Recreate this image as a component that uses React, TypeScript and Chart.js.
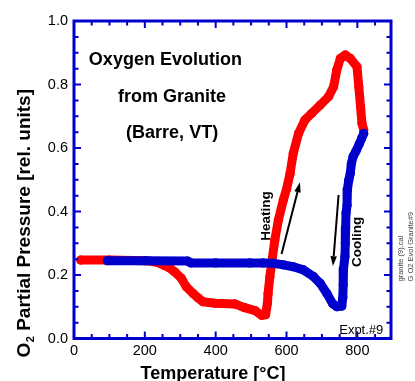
import React, { useEffect, useRef } from "react";
import { Chart, registerables } from "chart.js";

Chart.register(...registerables);

// Heating run (red): temperature [°C] and O2 partial pressure [rel. units]
const heatingT = [19, 100, 200, 218, 240, 255, 270, 284, 303, 317, 336, 350, 364, 397, 454, 482, 511, 530, 541, 546, 548, 553, 558, 567, 577, 591, 600, 610, 619, 634, 652, 671, 695, 719, 733, 742, 752, 766, 780, 799, 804, 809, 813, 818];
const heatingP = [0.247, 0.247, 0.245, 0.243, 0.238, 0.23, 0.222, 0.21, 0.19, 0.163, 0.142, 0.128, 0.116, 0.111, 0.109, 0.097, 0.088, 0.073, 0.075, 0.11, 0.142, 0.195, 0.237, 0.31, 0.373, 0.436, 0.47, 0.52, 0.583, 0.646, 0.688, 0.709, 0.735, 0.762, 0.793, 0.846, 0.882, 0.893, 0.882, 0.856, 0.793, 0.73, 0.678, 0.657];

// Cooling run (blue)
const coolingT = [818, 812, 805, 796, 788, 783, 780, 776, 772, 771, 768, 767, 766, 765, 761, 760, 759, 756, 742, 730, 714, 695, 676, 648, 619, 591, 563, 534, 496, 400, 330, 321, 200, 94];
const coolingP = [0.646, 0.63, 0.612, 0.59, 0.573, 0.55, 0.52, 0.5, 0.47, 0.42, 0.395, 0.35, 0.3, 0.258, 0.22, 0.17, 0.13, 0.102, 0.1, 0.11, 0.142, 0.174, 0.195, 0.216, 0.226, 0.232, 0.237, 0.238, 0.238, 0.238, 0.238, 0.244, 0.245, 0.245];

const xTickValues = [0, 200, 400, 600, 800];
const yTickValues = [0, 0.2, 0.4, 0.6, 0.8, 1.0];
const xMinorStep = 50;
const yMinorStep = 0.05;
const X_MIN = 0;
const X_MAX = 895;
const Y_MIN = 0;
const Y_MAX = 1.0;

const titleLines = ["Oxygen Evolution", "from Granite", "(Barre, VT)"];
const titleAnchorT = [258, 277, 277];
const titleAnchorP = [0.861, 0.746, 0.631];
const heatingLabel = "Heating";
const coolingLabel = "Cooling";
const exptLabel = "Expt.#9";
const sideNotes = ["granite (9).cal", "G O2 Evol Granite#9"];
const xTitle = "Temperature [°C]";
const yTitleMain = "O";
const yTitleSub = "2";
const yTitleRest = " Partial Pressure [rel. units]";

const BLUE = "#0000cc";
const RED = "#ff0000";
const FONT = "'Liberation Sans', Arial, Helvetica, sans-serif";

function drawArrow(ctx: CanvasRenderingContext2D, x1: number, y1: number, x2: number, y2: number) {
  const ang = Math.atan2(y2 - y1, x2 - x1);
  const head = 10;
  const hw = 3.2;
  const bx = x2 - head * Math.cos(ang);
  const by = y2 - head * Math.sin(ang);
  ctx.beginPath();
  ctx.moveTo(x1, y1);
  ctx.lineTo(bx, by);
  ctx.stroke();
  ctx.beginPath();
  ctx.moveTo(x2, y2);
  ctx.lineTo(bx + hw * Math.sin(ang), by - hw * Math.cos(ang));
  ctx.lineTo(bx - hw * Math.sin(ang), by + hw * Math.cos(ang));
  ctx.closePath();
  ctx.fill();
}

const decorPlugin = {
  id: "decor",
  afterDatasetsDraw(chart: any) {
    const { ctx, chartArea: a } = chart;
    const xs = chart.scales.x;
    const ys = chart.scales.y;
    ctx.save();

    // ticks (inward, all four sides)
    ctx.strokeStyle = BLUE;
    ctx.lineWidth = 2;
    ctx.beginPath();
    for (let v = X_MIN; v <= X_MAX + 1e-9; v += xMinorStep) {
      const major = xTickValues.some((t) => Math.abs(t - v) < 1e-6);
      const len = major ? 7 : 4.5;
      const px = xs.getPixelForValue(v);
      ctx.moveTo(px, a.bottom);
      ctx.lineTo(px, a.bottom - len);
      ctx.moveTo(px, a.top);
      ctx.lineTo(px, a.top + len);
    }
    for (let v = Y_MIN; v <= Y_MAX + 1e-9; v += yMinorStep) {
      const major = yTickValues.some((t) => Math.abs(t - v) < 1e-6);
      const len = major ? 7 : 4.5;
      const py = ys.getPixelForValue(v);
      ctx.moveTo(a.left, py);
      ctx.lineTo(a.left + len, py);
      ctx.moveTo(a.right, py);
      ctx.lineTo(a.right - len, py);
    }
    ctx.stroke();

    // frame
    ctx.lineWidth = 3;
    ctx.strokeRect(a.left, a.top, a.right - a.left, a.bottom - a.top);

    // in-plot title
    ctx.fillStyle = "#000";
    ctx.font = `bold 18px ${FONT}`;
    ctx.textAlign = "center";
    ctx.textBaseline = "alphabetic";
    titleLines.forEach((line, i) => {
      ctx.fillText(line, xs.getPixelForValue(titleAnchorT[i]), ys.getPixelForValue(titleAnchorP[i]));
    });

    // rotated labels
    ctx.font = `bold 13.5px ${FONT}`;
    const rot = (text: string, t: number, p: number) => {
      ctx.save();
      ctx.translate(xs.getPixelForValue(t), ys.getPixelForValue(p));
      ctx.rotate(-Math.PI / 2);
      ctx.textAlign = "center";
      ctx.fillText(text, 0, 0);
      ctx.restore();
    };
    rot(heatingLabel, 553, 0.386);
    rot(coolingLabel, 809, 0.304);

    // arrows
    ctx.strokeStyle = "#000";
    ctx.fillStyle = "#000";
    ctx.lineWidth = 2;
    drawArrow(ctx, xs.getPixelForValue(586), ys.getPixelForValue(0.266), xs.getPixelForValue(638), ys.getPixelForValue(0.492));
    drawArrow(ctx, xs.getPixelForValue(747), ys.getPixelForValue(0.452), xs.getPixelForValue(731), ys.getPixelForValue(0.228));

    // experiment label
    ctx.font = `13px ${FONT}`;
    ctx.textAlign = "center";
    ctx.fillText(exptLabel, xs.getPixelForValue(811), ys.getPixelForValue(0.014));

    // x axis title
    ctx.font = `bold 18px ${FONT}`;
    ctx.textAlign = "center";
    ctx.fillText(xTitle, a.left + 139, a.bottom + 40.5);

    // y axis title with subscript
    ctx.save();
    ctx.translate(a.left - 44, a.bottom + 19);
    ctx.rotate(-Math.PI / 2);
    ctx.textAlign = "left";
    ctx.font = `bold 19px ${FONT}`;
    ctx.fillText(yTitleMain, 0, 0);
    let w = ctx.measureText(yTitleMain).width;
    ctx.font = `bold 11px ${FONT}`;
    ctx.fillText(yTitleSub, w + 0.5, 4);
    w += ctx.measureText(yTitleSub).width + 0.5;
    ctx.font = `bold 19px ${FONT}`;
    ctx.fillText(yTitleRest, w, 0);
    ctx.restore();

    // side notes
    ctx.fillStyle = "#444";
    ctx.font = `7.5px ${FONT}`;
    sideNotes.forEach((s, i) => {
      ctx.save();
      ctx.translate(a.right + 12 + i * 9.5, a.bottom - 57);
      ctx.rotate(-Math.PI / 2);
      ctx.textAlign = "left";
      ctx.fillText(s, 0, 0);
      ctx.restore();
    });

    ctx.restore();
  },
};

export default function App() {
  const canvasRef = useRef<HTMLCanvasElement | null>(null);

  useEffect(() => {
    document.body.style.margin = "0";
    const canvas = canvasRef.current;
    if (!canvas) return;
    const heating = heatingT.map((t, i) => ({ x: t, y: heatingP[i] }));
    const cooling = coolingT.map((t, i) => ({ x: t, y: coolingP[i] }));

    const chart = new Chart(canvas, {
      type: "scatter",
      data: {
        datasets: [
          {
            label: "Cooling",
            data: cooling,
            showLine: true,
            borderColor: BLUE,
            backgroundColor: BLUE,
            borderWidth: 9,
            borderJoinStyle: "round",
            borderCapStyle: "round",
            pointRadius: 4.6,
            pointBorderWidth: 0,
            pointBackgroundColor: BLUE,
            order: 0,
          },
          {
            label: "Heating",
            data: heating,
            showLine: true,
            borderColor: RED,
            backgroundColor: RED,
            borderWidth: 9,
            borderJoinStyle: "round",
            borderCapStyle: "round",
            pointRadius: 4.6,
            pointBorderWidth: 0,
            pointBackgroundColor: RED,
            order: 1,
          },
        ],
      },
      options: {
        animation: false,
        responsive: false,
        maintainAspectRatio: false,
        layout: { padding: { top: 21, right: 24, bottom: 0, left: 0 } },
        plugins: {
          legend: { display: false },
          tooltip: { enabled: false },
        },
        scales: {
          x: {
            type: "linear",
            min: X_MIN,
            max: X_MAX,
            grid: { display: false, drawTicks: false },
            border: { display: false },
            ticks: {
              color: "#000",
              font: { family: FONT, size: 14.5 },
              padding: 4,
              maxRotation: 0,
              autoSkip: false,
            },
            afterBuildTicks: (s: any) => {
              s.ticks = xTickValues.map((v) => ({ value: v }));
            },
            afterFit: (s: any) => {
              s.height = 42.5;
            },
          },
          y: {
            type: "linear",
            min: Y_MIN,
            max: Y_MAX,
            grid: { display: false, drawTicks: false },
            border: { display: false },
            ticks: {
              color: "#000",
              font: { family: FONT, size: 14.5 },
              padding: 6,
              autoSkip: false,
              callback: (v: any) => Number(v).toFixed(1),
            },
            afterBuildTicks: (s: any) => {
              s.ticks = yTickValues.map((v) => ({ value: v }));
            },
            afterFit: (s: any) => {
              s.width = 74;
            },
          },
        },
      },
      plugins: [decorPlugin],
    });
    return () => chart.destroy();
  }, []);

  return (
    <div style={{ width: 415, height: 381 }}>
      <canvas ref={canvasRef} width={415} height={381} />
    </div>
  );
}
